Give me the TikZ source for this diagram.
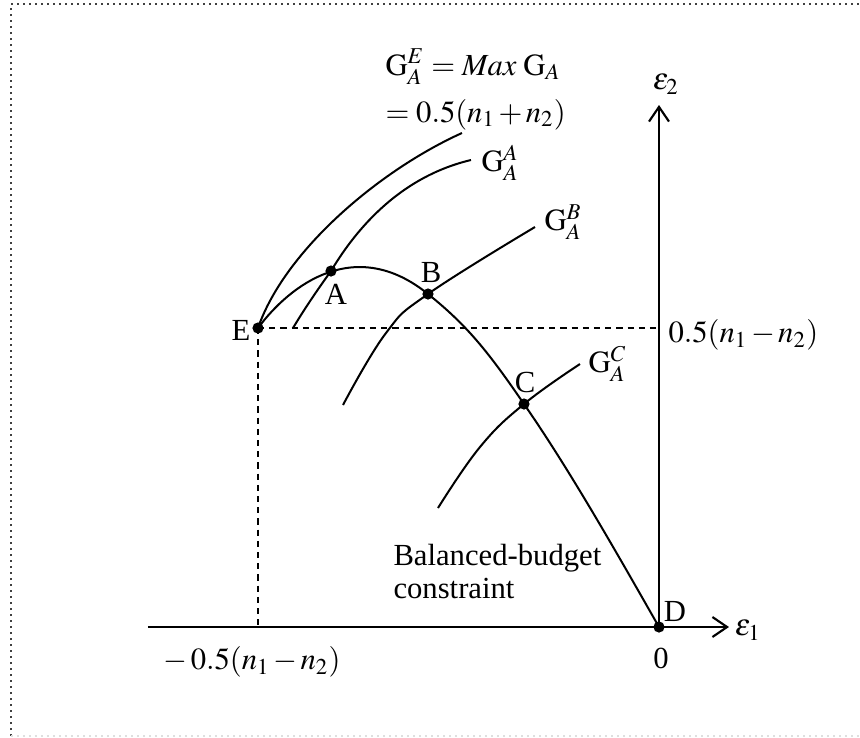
\documentclass[tikz,border=0pt]{standalone}
\usepackage{mathptmx}
\usepackage{fontspec}
\setmainfont{Liberation Serif}
\usetikzlibrary{arrows.meta}

\tikzset{
  axisline/.style={line width=0.8pt,-{Straight Barb[length=5.5pt,width=7.5pt,line width=0.8pt]}},
  curveline/.style={line width=0.75pt},
  guideline/.style={line width=0.75pt,dash pattern=on 2.3pt off 1.9pt},
  frameline/.style={line width=0.75pt,black!75,dash pattern=on 0.75pt off 1.5pt},
  lbl/.style={inner sep=0pt},
}
\thickmuskip=4mu plus 2mu
\medmuskip=2mu plus 1mu

\begin{document}
\begin{tikzpicture}[x=0.375pt,y=-0.375pt,font=\fontsize{11.5}{13.5}\selectfont]
\useasboundingbox (0,0) rectangle (860,738);

% frame
\draw[frameline] (11,736) -- (11,4) -- (860,4);
\draw[frameline,gray!25] (11,736) -- (860,736);

% points
\coordinate (D) at (659,627);
\coordinate (E) at (258,328);
\coordinate (A) at (331,271);
\coordinate (B) at (428,294);
\coordinate (C) at (524,404);
\coordinate (xstart) at (148,627);
\coordinate (xtip) at (729,627);
\coordinate (ytip) at (659,105);
\coordinate (Ey) at (659,328);
\coordinate (Ex) at (258,627);

% axes and guides
\draw[axisline] (xstart) -- (xtip);
\draw[axisline] (D) -- (ytip);
\draw[guideline] (E) -- (Ey);
\draw[guideline] (E) -- (Ex);

% iso-curves
\draw[curveline] (E) .. controls (285,250) and (380,170) .. (462,133) coordinate (gE);
\draw[curveline] (293,328) .. controls (305,308) and (318,289) .. (A)
  .. controls (352,236) and (395,178) .. (471,160) coordinate (gA);
\draw[curveline] plot[smooth,tension=0.7] coordinates {(343,405) (386,333) (B) (535,227)};
\coordinate (gB) at (535,227);
\draw[curveline] plot[smooth,tension=0.7] coordinates {(438,508) (480,447) (C) (580,364)};
\coordinate (gC) at (580,364);

% balanced-budget constraint
\draw[curveline] (E) .. controls (290,285) and (355,235) .. (B)
  .. controls (468,326) and (489,353) .. (C)
  .. controls (569,469) and (614,548) .. (D);

% dots
\foreach \p in {E,A,B,C,D}
  \fill (\p) circle (2.1pt);

% labels
\node[lbl] (labE) at (241,330) {E};
\node[lbl] (labA) at (336,294) {A};
\node[lbl] (labB) at (431,272) {B};
\node[lbl] (labC) at (525,382) {C};
\node[lbl] (labD) at (675,611) {D};
\node[lbl] (zero) at (661,658) {0};
\node[lbl] (eps1) at (748,630) {$\varepsilon_1$};
\node[lbl] (eps2) at (666,84) {$\varepsilon_2$};
\node[lbl] (negE) at (252,662) {$-\,0.5(n_1-n_2)$};
\node[lbl,anchor=west] (posE) at (668,335) {$0.5(n_1-n_2)$};

\node[lbl,anchor=base west] (maxG) at (385,75) {$\mathrm{G}_A^E = \mathit{Max}\;\mathrm{G}_A$};
\node[lbl,anchor=base west] (maxGval) at (385,122) {$= 0.5(n_1+n_2)$};
\node[lbl,anchor=west] (labgA) at (481,163) {$\mathrm{G}_A^A$};
\node[lbl,anchor=west] (labgB) at (544,222) {$\mathrm{G}_A^B$};
\node[lbl,anchor=west] (labgC) at (588,364) {$\mathrm{G}_A^C$};

\node[lbl,anchor=base west] (bal) at (393,565) {Balanced-budget};
\node[lbl,anchor=base west] (con) at (393,598) {constraint};
\end{tikzpicture}
\end{document}
